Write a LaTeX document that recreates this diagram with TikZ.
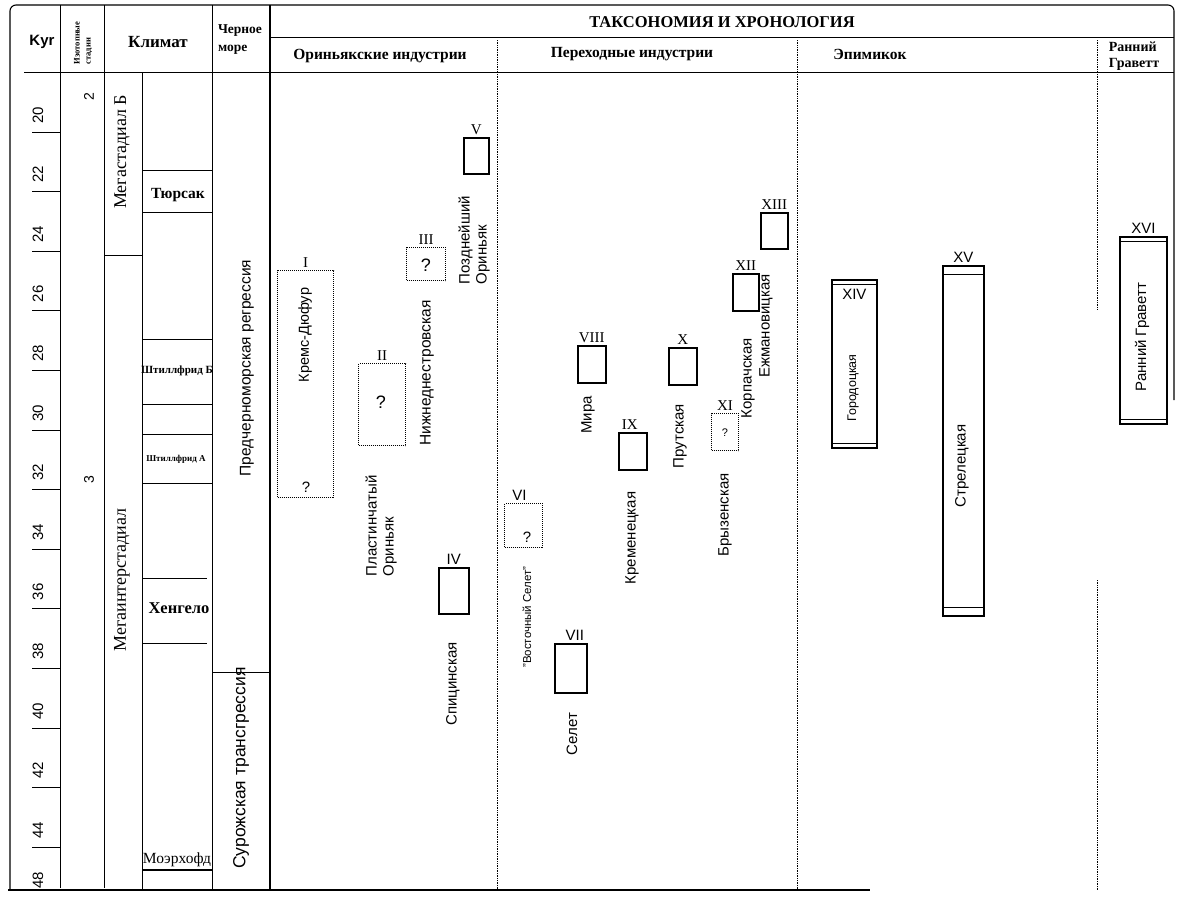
\documentclass[tikz,border=0pt]{standalone}
\usepackage{fontspec}
\setmainfont{Liberation Serif}
\setsansfont{Liberation Sans}
\begin{document}
\begin{tikzpicture}[x=1pt,y=-1pt,
  frame/.style={line width=1.1pt},
  thin/.style={line width=0.8pt},
  sdiv/.style={densely dotted, line width=0.7pt},
  hdr/.style={font=\bfseries\fontsize{15.5}{17}\selectfont, inner sep=0},
  kyr/.style={font=\sffamily\fontsize{15}{16}\selectfont, rotate=90, inner sep=0},
  clim/.style={font=\bfseries\fontsize{15.5}{17}\selectfont, inner sep=0},
  rlbl/.style={font=\sffamily\fontsize{15}{17}\selectfont, rotate=90, inner sep=0, align=left},
  rslbl/.style={font=\rmfamily\fontsize{18}{19}\selectfont, rotate=90, inner sep=0},
  rn/.style={font=\rmfamily\fontsize{15}{16}\selectfont, inner sep=0, anchor=south},
  rns/.style={font=\sffamily\fontsize{15}{16}\selectfont, inner sep=0, anchor=south},
  q/.style={font=\sffamily\fontsize{15}{16}\selectfont, inner sep=0},
  sbox/.style={draw, line width=1.6pt, inner sep=0, anchor=north west},
  dbox/.style={draw, densely dotted, line width=1pt, inner sep=0, anchor=north west},
  bbox/.style={draw, line width=1.8pt, inner sep=0, anchor=north west}
]
\useasboundingbox (0,0) rectangle (1178,900);
% outer frame
\draw[frame, rounded corners=6pt] (10,890) -- (10,5) -- (1174,5) -- (1174,400);
\draw[frame] (8,890) -- (870,890);
% header rows
\draw[thin] (24,72) -- (1174,72);
\draw[thin] (270,37) -- (1174,37);
% column lines
\draw[thin] (60,5) -- (60,888);
\draw[thin] (104,5) -- (104,888);
\draw[thin] (142,72) -- (142,890);
\draw[thin] (212,5) -- (212,890);
\draw[line width=1.4pt] (270,5) -- (270,890);
% section dividers
\draw[sdiv] (497,40) -- (497,890);
\draw[sdiv] (797,40) -- (797,890);
\draw[sdiv] (1097,40) -- (1097,310);
\draw[sdiv] (1097,580) -- (1097,890);

% header texts
\node[font=\sffamily\bfseries\fontsize{15}{16}\selectfont, inner sep=0] (hkyr) at (42,42) {Kyr};
\node[font=\bfseries\fontsize{8.5}{11}\selectfont, rotate=90, inner sep=0, align=left] (hiso) at (83,43) {Изотопные\\стадии};
\node[hdr, font=\bfseries\fontsize{17}{18}\selectfont] (hclim) at (158,42) {Климат};
\node[font=\bfseries\fontsize{13.5}{18}\selectfont, inner sep=0, align=left] (hsea) at (240,40) {Черное\\море};
\node[hdr, font=\bfseries\fontsize{16.5}{18}\selectfont] (htax) at (722,22) {ТАКСОНОМИЯ И ХРОНОЛОГИЯ};
\node[hdr] (haur) at (380,56) {Ориньякские индустрии};
\node[hdr] (htrans) at (632,54) {Переходные индустрии};
\node[hdr] (hepi) at (870,54) {Эпимикок};
\node[hdr, align=left, font=\bfseries\fontsize{14}{16}\selectfont] (hgrav) at (1134,56) {Ранний\\Граветт};

% Kyr scale
\foreach \k [count=\i] in {20,22,...,44} {
  \pgfmathsetmacro{\ty}{132+(\k-20)*29.8}
  \draw[thin] (32,\ty) -- (60,\ty);
  \node[kyr] (k\i) at (38,\ty-17) {\k};
}
\node[kyr] (k48) at (38,880) {48};

% isotope stages
\node[kyr, font=\sffamily\fontsize{14}{15}\selectfont] (iso2) at (89,97) {2};
\node[kyr, font=\sffamily\fontsize{14}{15}\selectfont] (iso3) at (89,480) {3};

% climate
\draw[thin] (104,255) -- (142,255);
\node[rslbl] (megb) at (122,152) {Мегастадиал Б};
\node[rslbl] (megi) at (122,580) {Мегаинтерстадиал};
\draw[thin] (142,170) -- (212,170);
\draw[thin] (142,212) -- (212,212);
\draw[thin] (142,339) -- (212,339);
\draw[thin] (142,404) -- (212,404);
\draw[thin] (142,434) -- (212,434);
\draw[thin] (142,483) -- (212,483);
\draw[thin] (142,578) -- (207,578);
\draw[thin] (142,643) -- (207,643);
\draw[line width=1.3pt] (142,870) -- (212,870);
\node[clim] (tyur) at (178,195) {Тюрсак};
\node[clim, font=\bfseries\fontsize{11}{12}\selectfont] (shtb) at (177,371) {Штиллфрид Б};
\node[clim, font=\bfseries\fontsize{9}{10}\selectfont] (shta) at (176,459) {Штиллфрид А};
\node[clim, font=\bfseries\fontsize{16.5}{18}\selectfont] (heng) at (179,608) {Хенгело};
\node[clim, font=\rmfamily\fontsize{15.5}{17}\selectfont] (moer) at (177,860) {Моэрхофд};

% black sea
\draw[thin] (212,672) -- (270,672);
\node[rlbl, font=\sffamily\fontsize{15.5}{17}\selectfont] (preg) at (247,368) {Предчерноморская регрессия};
\node[rlbl, font=\sffamily\fontsize{17.5}{19}\selectfont] (sur) at (241,768) {Сурожская трансгрессия};

% --- Aurignacian ---
\node[dbox, minimum width=56pt, minimum height=227pt] (bI) at (277,270) {};
\node[rn] (nI) at ([yshift=2pt]bI.north) {I};
\node[q] (qI) at (306,487) {?};
\node[rlbl, font=\sffamily\fontsize{14.5}{16}\selectfont] (lI) at (305,335) {Кремс-Дюфур};

\node[dbox, minimum width=47pt, minimum height=82pt] (bII) at (358,363) {};
\node[rn] (nII) at ([yshift=2pt]bII.north) {II};
\node[q, font=\sffamily\fontsize{18}{19}\selectfont] (qII) at (381,402) {?};
\node[rlbl] (lII) at (381,526) {Пластинчатый\\Ориньяк};

\node[dbox, minimum width=39pt, minimum height=33pt] (bIII) at (406,247) {};
\node[rn] (nIII) at ([yshift=2pt]bIII.north) {III};
\node[q, font=\sffamily\fontsize{18}{19}\selectfont] (qIII) at (426,265) {?};
\node[rlbl, font=\sffamily\fontsize{15.5}{17}\selectfont] (lIII) at (427,373) {Нижнеднестровская};

\node[sbox, minimum width=25pt, minimum height=36pt] (bV) at (463,137) {};
\node[rn] (nV) at ([yshift=2pt]bV.north) {V};
\node[rlbl] (lV) at (474,240) {Позднейший\\Ориньяк};

\node[sbox, minimum width=30pt, minimum height=46pt] (bIV) at (438,567) {};
\node[rns] (nIV) at ([yshift=2pt]bIV.north) {IV};
\node[rlbl] (lIV) at (453,684) {Спицинская};

% --- Transitional ---
\node[dbox, minimum width=38pt, minimum height=44pt] (bVI) at (504,503) {};
\node[rns] (nVI) at ([yshift=2pt,xshift=-4pt]bVI.north) {VI};
\node[q] (qVI) at (527,537) {?};
\node[rlbl, font=\sffamily\fontsize{11.5}{12}\selectfont] (lVI) at (527,617) {"Восточный Селет"};

\node[sbox, minimum width=32pt, minimum height=49pt] (bVII) at (554,643) {};
\node[rns] (nVII) at ([yshift=2pt,xshift=4pt]bVII.north) {VII};
\node[rlbl] (lVII) at (572,734) {Селет};

\node[sbox, minimum width=28pt, minimum height=37pt] (bVIII) at (577,345) {};
\node[rn] (nVIII) at ([yshift=2pt]bVIII.north) {VIII};
\node[rlbl] (lVIII) at (588,415) {Мира};

\node[sbox, minimum width=28pt, minimum height=37pt] (bIX) at (618,432) {};
\node[rn] (nIX) at ([yshift=2pt,xshift=-3pt]bIX.north) {IX};
\node[rlbl] (lIX) at (632,538) {Кременецкая};

\node[sbox, minimum width=28pt, minimum height=37pt] (bX) at (668,347) {};
\node[rn] (nX) at ([yshift=2pt]bX.north) {X};
\node[rlbl] (lX) at (680,436) {Прутская};

\node[dbox, minimum width=27pt, minimum height=37pt] (bXI) at (711,413) {};
\node[rn] (nXI) at ([yshift=2pt]bXI.north) {XI};
\node[q, font=\sffamily\fontsize{11}{12}\selectfont] (qXI) at (725,433) {?};
\node[rlbl] (lXI) at (725,515) {Брызенская};

\node[sbox, minimum width=26pt, minimum height=37pt] (bXII) at (732,273) {};
\node[rn] (nXII) at ([yshift=2pt]bXII.north) {XII};
\node[rlbl] (lXII) at (748,378) {Корпачская};

\node[sbox, minimum width=27pt, minimum height=36pt] (bXIII) at (760,212) {};
\node[rn] (nXIII) at ([yshift=2pt]bXIII.north) {XIII};
\node[rlbl] (lXIII) at (766,326) {Ежмановицкая};

% --- Epimiocene ---
\node[bbox, minimum width=45pt, minimum height=168pt] (bXIV) at (831,279) {};
\draw[thin] ([yshift=-5pt]bXIV.north west) -- ([yshift=-5pt]bXIV.north east);
\draw[thin] ([yshift=5pt]bXIV.south west) -- ([yshift=5pt]bXIV.south east);
\node[rns, anchor=north] (nXIV) at ([yshift=-10pt]bXIV.north) {XIV};
\node[rlbl, font=\sffamily\fontsize{12.5}{13}\selectfont] (lXIV) at (853,388) {Городоцкая};

\node[bbox, minimum width=41pt, minimum height=350pt] (bXV) at (942,265) {};
\draw[thin] ([yshift=-9pt]bXV.north west) -- ([yshift=-9pt]bXV.north east);
\draw[thin] ([yshift=9pt]bXV.south west) -- ([yshift=9pt]bXV.south east);
\node[rns] (nXV) at ([yshift=2pt]bXV.north) {XV};
\node[rlbl] (lXV) at (962,466) {Стрелецкая};

% --- Early Gravettian ---
\node[bbox, minimum width=47pt, minimum height=187pt] (bXVI) at (1119,236) {};
\draw[thin] ([yshift=-5pt]bXVI.north west) -- ([yshift=-5pt]bXVI.north east);
\draw[thin] ([yshift=5pt]bXVI.south west) -- ([yshift=5pt]bXVI.south east);
\node[rns] (nXVI) at ([yshift=2pt]bXVI.north) {XVI};
\node[rlbl] (lXVI) at (1142,337) {Ранний Граветт};
\end{tikzpicture}
\end{document}
